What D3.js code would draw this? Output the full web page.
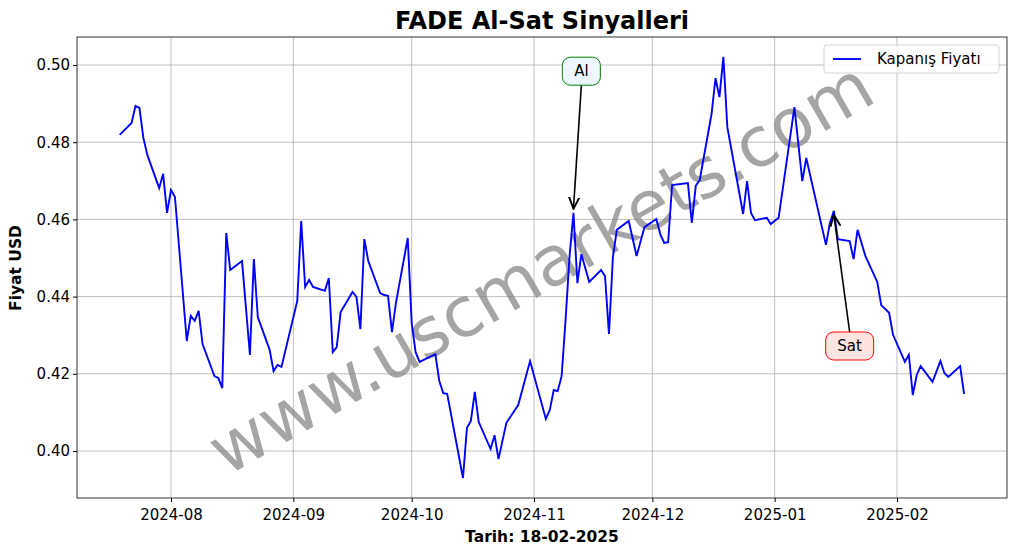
<!DOCTYPE html>
<html><head><meta charset="utf-8">
<script src="https://cdn.jsdelivr.net/npm/d3@7"></script>
<style>body{margin:0;background:#fff}svg{font-family:"DejaVu Sans",sans-serif}</style>
</head><body><svg id="c" width="1017" height="554"></svg>
<script>
const dates=["2024-07-19","2024-07-22","2024-07-23","2024-07-24","2024-07-25","2024-07-26","2024-07-29","2024-07-30","2024-07-31","2024-08-01","2024-08-02","2024-08-05","2024-08-06","2024-08-07","2024-08-08","2024-08-09","2024-08-12","2024-08-13","2024-08-14","2024-08-15","2024-08-16","2024-08-19","2024-08-21","2024-08-22","2024-08-23","2024-08-26","2024-08-27","2024-08-28","2024-08-29","2024-09-02","2024-09-03","2024-09-04","2024-09-05","2024-09-06","2024-09-09","2024-09-10","2024-09-11","2024-09-12","2024-09-13","2024-09-16","2024-09-17","2024-09-18","2024-09-19","2024-09-20","2024-09-23","2024-09-24","2024-09-25","2024-09-26","2024-09-27","2024-09-30","2024-10-01","2024-10-02","2024-10-03","2024-10-07","2024-10-08","2024-10-09","2024-10-10","2024-10-14","2024-10-15","2024-10-16","2024-10-17","2024-10-18","2024-10-21","2024-10-22","2024-10-23","2024-10-25","2024-10-28","2024-10-31","2024-11-04","2024-11-05","2024-11-06","2024-11-07","2024-11-08","2024-11-09","2024-11-10","2024-11-11","2024-11-12","2024-11-13","2024-11-15","2024-11-18","2024-11-19","2024-11-20","2024-11-21","2024-11-22","2024-11-25","2024-11-27","2024-11-29","2024-12-02","2024-12-03","2024-12-04","2024-12-05","2024-12-06","2024-12-10","2024-12-11","2024-12-12","2024-12-13","2024-12-16","2024-12-17","2024-12-18","2024-12-19","2024-12-20","2024-12-24","2024-12-25","2024-12-26","2024-12-27","2024-12-30","2024-12-31","2025-01-02","2025-01-06","2025-01-08","2025-01-09","2025-01-14","2025-01-15","2025-01-16","2025-01-17","2025-01-20","2025-01-21","2025-01-22","2025-01-24","2025-01-27","2025-01-28","2025-01-30","2025-01-31","2025-02-03","2025-02-04","2025-02-05","2025-02-06","2025-02-07","2025-02-10","2025-02-12","2025-02-13","2025-02-14","2025-02-17","2025-02-18"];
const closes=[.4819,.4850,.4894,.4889,.4811,.4767,.4681,.4718,.4617,.4676,.4658,.4285,.4350,.4337,.4363,.4277,.4194,.4189,.4163,.4565,.4469,.4492,.4249,.4497,.4347,.4262,.4207,.4223,.4218,.4389,.4596,.4425,.4443,.4425,.4415,.4448,.4256,.4269,.4360,.4412,.4399,.4316,.4549,.4492,.4409,.4404,.4402,.4308,.4383,.4552,.4332,.4256,.4231,.4251,.4181,.4150,.4148,.3930,.4060,.4078,.4153,.4075,.4005,.4041,.3979,.4073,.4119,.4233,.4083,.4106,.4158,.4155,.4194,.4339,.4503,.4617,.4435,.4510,.4438,.4469,.4453,.4303,.4503,.4573,.4596,.4505,.4580,.4601,.4562,.4539,.4541,.4689,.4694,.4591,.4687,.4702,.4873,.4966,.4917,.5021,.4839,.4614,.4699,.4617,.4598,.4604,.4588,.4604,.4891,.4699,.4759,.4534,.4591,.4622,.4549,.4544,.4497,.4573,.4505,.4438,.4378,.4358,.4301,.4231,.4249,.4145,.4197,.4220,.4179,.4233,.4202,.4192,.4220,.4148];
const yTicks=[0.40,0.42,0.44,0.46,0.48,0.50];
const xTicks=["2024-08-01","2024-09-01","2024-10-01","2024-11-01","2024-12-01","2025-01-01","2025-02-01"];
const signals=[{label:"Al",date:"2024-11-11",value:.4617,tDate:"2024-11-13",tValue:.4984,color:"green",fill:"#eef6ff"},
               {label:"Sat",date:"2025-01-16",value:.4622,tDate:"2025-01-20",tValue:.4272,color:"red",fill:"#ffe4e1"}];
const P=d3.timeParse("%Y-%m-%d");
const svg=d3.select("#c");
const L=77,R=1007,T=37,B=498;
const x=d3.scaleTime().domain([P("2024-08-01"),P("2025-02-01")]).range([171,897]);
const y=d3.scaleLinear().domain([0.40,0.50]).range([451,65]);
const g=svg.append("g");
xTicks.forEach(t=>g.append("line").attr("x1",x(P(t))).attr("x2",x(P(t))).attr("y1",T).attr("y2",B).attr("stroke","#b0b0b0").attr("stroke-width",0.8));
yTicks.forEach(t=>g.append("line").attr("x1",L).attr("x2",R).attr("y1",y(t)).attr("y2",y(t)).attr("stroke","#b0b0b0").attr("stroke-width",0.8));
svg.append("text").attr("x",543).attr("y",272).attr("text-anchor","middle").attr("dominant-baseline","middle")
 .attr("transform","rotate(-30,543,272)").attr("font-size",69).attr("fill","#808080").attr("opacity",0.7).text("www.uscmarkets.com");
const data=dates.map((d,i)=>({d:P(d),v:closes[i]}));
svg.append("path").datum(data).attr("fill","none").attr("stroke","#0000ff").attr("stroke-width",1.9)
 .attr("d",d3.line().x(d=>x(d.d)).y(d=>y(d.v)));
svg.append("rect").attr("x",L).attr("y",T).attr("width",R-L).attr("height",B-T).attr("fill","none").attr("stroke","#000").attr("stroke-width",0.8);
const xa=svg.append("g").attr("transform",`translate(0,${B})`).call(d3.axisBottom(x).tickValues(xTicks.map(P)).tickFormat(d3.timeFormat("%Y-%m")).tickSizeOuter(0).tickSize(4));
const ya=svg.append("g").attr("transform",`translate(${L},0)`).call(d3.axisLeft(y).tickValues(yTicks).tickFormat(d3.format(".2f")).tickSizeOuter(0).tickSize(4));
[xa,ya].forEach(a=>{a.attr("font-size",null).attr("font-family",null);a.select(".domain").remove();a.selectAll("text").style("font-size","15px").style("font-family","DejaVu Sans").attr("fill","#000");a.selectAll("line").attr("stroke","#000");});
xa.selectAll("text").attr("dy","1em");
svg.append("defs").append("marker").attr("id","ar").attr("viewBox","0 0 10 10").attr("refX",9).attr("refY",5).attr("markerWidth",8).attr("markerHeight",8).attr("orient","auto")
 .append("path").attr("d","M0,1 L9,5 L0,9").attr("fill","none").attr("stroke","#000").attr("stroke-width",1.5);
signals.forEach(s=>{
 const tx=x(P(s.tDate)),ty=y(s.tValue),px=x(P(s.date)),py=y(s.value);
 const up=ty<py; const sy=up?ty+14:ty-14;
 svg.append("line").attr("x1",tx).attr("y1",sy).attr("x2",px).attr("y2",up?py-4:py+4).attr("stroke","#000").attr("stroke-width",1.6).attr("marker-end","url(#ar)");
 const w=s.label.length*10+18;
 svg.append("rect").attr("x",tx-w/2).attr("y",ty-14).attr("width",w).attr("height",28).attr("rx",8).attr("fill",s.fill).attr("stroke",s.color).attr("stroke-width",1);
 svg.append("text").attr("x",tx).attr("y",ty+5).attr("text-anchor","middle").attr("font-size",15).text(s.label);
});
svg.append("text").attr("x",542).attr("y",29).attr("text-anchor","middle").attr("font-size",24).attr("font-weight","bold").text("FADE Al-Sat Sinyalleri");
svg.append("text").attr("x",542).attr("y",542).attr("text-anchor","middle").attr("font-size",15.5).attr("font-weight","bold").text("Tarih: 18-02-2025");
svg.append("text").attr("transform","translate(21,268) rotate(-90)").attr("text-anchor","middle").attr("font-size",15.5).attr("font-weight","bold").text("Fiyat USD");
const lg=svg.append("g").attr("transform","translate(824,45)");
lg.append("rect").attr("width",175).attr("height",28).attr("rx",3).attr("fill","#fff").attr("opacity",0.8).attr("stroke","#ccc");
lg.append("line").attr("x1",9).attr("x2",37).attr("y1",14).attr("y2",14).attr("stroke","#0000ff").attr("stroke-width",1.9);
lg.append("text").attr("x",53).attr("y",19).attr("font-size",15).text("Kapanış Fiyatı");
</script></body></html>
